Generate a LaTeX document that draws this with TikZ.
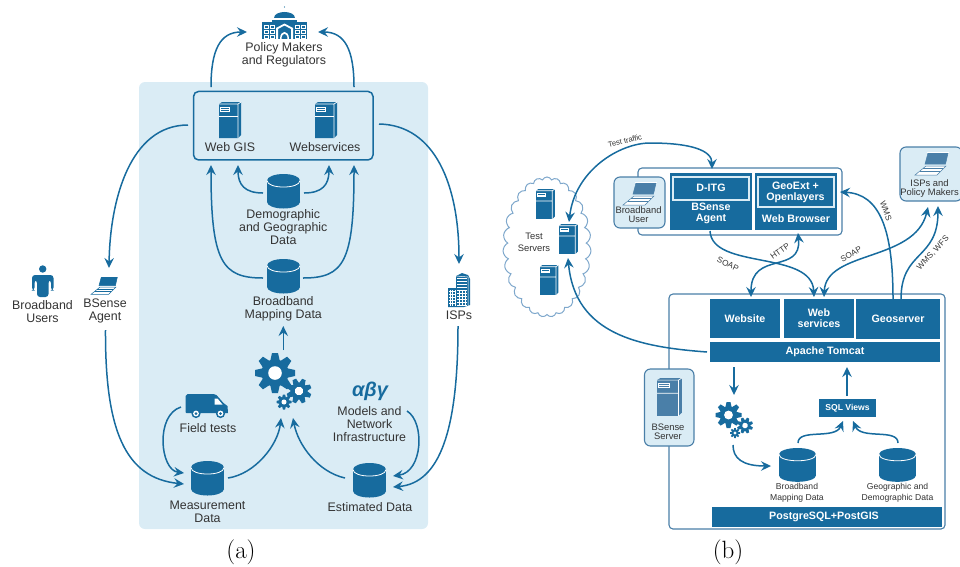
\documentclass[tikz,border=0pt]{standalone}
\usepackage{fontspec}
\setsansfont{Liberation Sans}
\usetikzlibrary{arrows.meta,shapes.symbols}
\definecolor{bl}{HTML}{176B9E}
\definecolor{blm}{HTML}{4A7FA8}
\definecolor{bll}{HTML}{DAECF5}
\definecolor{cld}{HTML}{7FA8CC}
\definecolor{txt}{HTML}{333333}
\tikzset{
 conn/.style={draw=bl,line width=1.5pt,-{Stealth[length=10pt,width=9.5pt,inset=3.5pt]}},
 dconn/.style={draw=bl,line width=1.5pt,{Stealth[length=10pt,width=9.5pt,inset=3.5pt]}-{Stealth[length=10pt,width=9.5pt,inset=3.5pt]}},
 lab/.style={font=\sffamily\fontsize{12.4}{13}\selectfont,text=txt,align=center,inner sep=0pt},
 slab/.style={font=\sffamily\fontsize{9.4}{9}\selectfont,text=txt,align=center,inner sep=0pt},
 clab/.style={font=\sffamily\fontsize{8.2}{8}\selectfont,text=txt,align=center,inner sep=0pt},
 wlab/.style={font=\sffamily\bfseries\fontsize{10.7}{11}\selectfont,text=white,align=center,inner sep=0pt},
 blk/.style={fill=bl,draw=none,inner sep=0pt},
 rbox/.style={draw=bl,line width=1.5pt,rounded corners=5pt},
 obox/.style={draw=blm,line width=1.1pt,rounded corners=4pt,fill=white},
 lbox/.style={draw=blm,line width=1.1pt,rounded corners=6pt,fill=bll},
 capt/.style={font=\rmfamily\fontsize{25}{25}\selectfont,text=black,inner sep=0pt},
}
% x y sx sy colour
\newcommand\iconServer[5]{\begin{scope}[shift={(#1,#2)},xscale=#3,yscale=#4]
 \fill[#5] (0,2)--(3,0)--(22,0)--(22,33)--(19,36)--(0,36)--cycle;
 \draw[white,line width=.7pt] (0,2)--(19,2)--(19,36) (19,2)--(22,0) (0,14.5)--(19,14.5);
 \draw[white,line width=.6pt] (1.5,5)rectangle(10.5,9) (1.5,7)--(10.5,7);
 \end{scope}}
\newcommand\iconDb[4]{\begin{scope}[shift={(#1,#2)},xscale=#3,yscale=#4]
 \fill[bl] (16.5,6.5) ellipse [x radius=16.5,y radius=6.5];
 \fill[bl] (16.5,28) ellipse [x radius=16.5,y radius=6.5];
 \fill[bl] (0,6.5) rectangle (33,28);
 \draw[white,line width=.8pt] (0,6.5) .. controls (0,15.2) and (33,15.2) .. (33,6.5);
 \end{scope}}
\newcommand\iconGear[4]{\begin{scope}[shift={(#1,#2)},scale=#3,rotate=#4]
 \fill[bl] (0,0) circle [radius=.68];
 \foreach \a in {0,45,...,315}{\fill[bl,rotate=\a] (.55,-.25)--(1,-.15)--(1,.15)--(.55,.25)--cycle;}
 \fill[white] (0,0) circle [radius=.34];
 \end{scope}}
\newcommand\iconLaptop[4]{\begin{scope}[shift={(#1,#2)},scale=#3]
 \draw[#4,fill=#4,line width=.5pt] (13,1)--(33,1)--(30.5,12)--(10,12)--cycle;
 \draw[white,line width=.5pt] (12,0)--(34,0);
 \draw[#4,fill=white,line width=.5pt] (11,14)--(31,14)--(22,23)--(0,23)--cycle;
 \draw[#4,line width=.3pt] (8,16.5)--(28,16.5) (5,19)--(25,19);
 \end{scope}}
\begin{document}
\begin{tikzpicture}[x=1pt,y=-1pt]
\useasboundingbox (0,0) rectangle (960,566);
% ---------- (a)
\fill[bll,rounded corners=6pt] (139,82) rectangle (428,529);
\node[rbox,minimum width=179.5pt,minimum height=68.5pt,inner sep=0pt] (topbox) at (283.3,125.7) {};
\iconServer{219}{102}{1}{1}{bl}
\iconServer{315}{102}{1}{1}{bl}
\node[lab] (webgis) at (230,147) {Web GIS};
\node[lab] (websrv) at (325,147) {Webservices};
% capitol
\begin{scope}[shift={(262,7)}]
 \fill[bl] (22.5,0) circle [radius=.7];
 \fill[bl] (12,11) .. controls (12,3) and (33,3) .. (33,11) --cycle;
 \fill[bl] (10,12.5) rectangle (35,15);
 \fill[bl] (0,15) rectangle (45,32);
 \foreach \xx in {2,8,33,39}\foreach \yy in {18,23,28}{\draw[white,line width=.5pt] (\xx,\yy) rectangle +(4,3);}
 \fill[white] (14,32)--(14,21)--(22.5,16.5)--(31,21)--(31,32)--(29,32)--(29,22)--(22.5,18.5)--(16,22)--(16,32)--cycle;
 \fill[white] (18,32) .. controls (18,22.5) and (27,22.5) .. (27,32) -- (25.5,32) .. controls (25.5,25) and (19.5,25) .. (19.5,32) -- cycle;
\end{scope}
\node[lab] (policy) at (284,54.5) {Policy Makers\\and Regulators};
\coordinate (pl) at (247,32); \coordinate (pr) at (318,32);
\coordinate (tl) at (211,87); \coordinate (tr) at (354,87);
\draw[conn] (tl) .. controls (211,50) and (220,32) .. (pl);
\draw[conn] (tr) .. controls (354,50) and (345,32) .. (pr);
% demographic
\iconDb{267}{174}{1}{1}
\node[lab,font=\sffamily\fontsize{12.4}{12.6}\selectfont] (demog) at (283.3,227) {Demographic\\and Geographic\\Data};
\coordinate (dl) at (263,193); \coordinate (dr) at (304,193);
\coordinate (wl) at (238,165); \coordinate (wr) at (329,165);
\draw[conn] (dl) .. controls (245,193) and (238,185) .. (wl);
\draw[conn] (dr) .. controls (322,193) and (329,185) .. (wr);
% broadband
\iconDb{267}{259}{1}{1}
\node[lab] (bmap) at (283.3,308.3) {Broadband\\Mapping Data};
\coordinate (bl) at (263,278); \coordinate (br) at (303,278);
\coordinate (ul) at (211,165); \coordinate (ur) at (354,165);
\draw[conn] (bl) .. controls (222,278) and (211,262) .. (ul);
\draw[conn] (br) .. controls (344,278) and (354,262) .. (ur);
% gears
\iconGear{275}{373}{20}{0}
\iconGear{299}{391}{12.5}{22}
\iconGear{284}{402}{7.5}{0}
\coordinate (g1) at (283.3,350); \coordinate (g2) at (283.3,326);
\draw[conn] (g1) -- (g2);
% van
\begin{scope}[shift={(185.5,394)}]
 \fill[bl] (2,0)--(28,0)--(31,1)--(38,9)--(42,12)--(42.5,19)--(1,19)--(0,18)--(0,2)--cycle;
 \fill[white] (29,4.5)--(32,4.5)--(37,10.5)--(29,10.5)--cycle;
 \foreach \xx in {10.5,35}{\fill[bl] (\xx,19.5) circle [radius=4.6]; \fill[white] (\xx,19.5) circle [radius=2.9]; \fill[bl] (\xx,19.5) circle [radius=1.5];}
\end{scope}
\node[lab] (field) at (208,428) {Field tests};
% measurement
\iconDb{191}{461}{1}{1}
\node[lab] (meas) at (207.5,511.5) {Measurement\\Data};
\iconDb{353}{463}{1}{1}
\node[lab] (estim) at (370,507) {Estimated Data};
\node[inner sep=0pt,text=bl,font=\sffamily\bfseries\itshape\fontsize{20}{20}\selectfont] (abg) at (370,391) {αβγ};
\node[lab] (models) at (369.5,424.5) {Models and\\Network\\Infrastructure};
\coordinate (f1) at (181,407); \coordinate (m1) at (184,473);
\draw[conn] (f1) .. controls (155,415) and (160,470) .. (m1);
\coordinate (ag) at (105.5,330); \coordinate (m2) at (184,484);
\draw[conn] (ag) .. controls (105,430) and (125,478) .. (m2);
\coordinate (m3) at (228,478); \coordinate (g3) at (281,418);
\draw[conn] (m3) .. controls (255,474) and (278,445) .. (g3);
\coordinate (e3) at (345,478); \coordinate (g4) at (293,418);
\draw[conn] (e3) .. controls (318,472) and (298,445) .. (g4);
\coordinate (mo) at (407,411); \coordinate (e1) at (393,476);
\draw[conn] (mo) .. controls (425,422) and (423,472) .. (e1);
\coordinate (is) at (458,326); \coordinate (e2) at (393,487);
\draw[conn] (is) .. controls (458,430) and (440,483) .. (e2);
\coordinate (wa) at (188,125); \coordinate (agt) at (109,268);
\draw[conn] (wa) .. controls (130,125) and (110,200) .. (agt);
\coordinate (wi) at (379,124); \coordinate (isp) at (459,264);
\draw[conn] (wi) .. controls (435,125) and (459,185) .. (isp);
% person
\fill[bl] (42.7,269) circle [radius=3.7];
\fill[bl,rounded corners=3pt] (32,290.5)--(32,275)--(53.5,275)--(53.5,290.5)--(51,290.5)--(51,280)--(48.5,280)--(48.5,297)--(37,297)--(37,280)--(34.5,280)--(34.5,290.5)--cycle;
\node[lab] (busers) at (42.5,312) {Broadband\\Users};
\iconLaptop{91}{276}{.8}{bl}
\node[lab] (bagent) at (105,311) {BSense\\Agent};
% building
\begin{scope}[shift={(448,273)}]
 \fill[bl] (0,15)--(8,15)--(8,3)--(14,0)--(20,2)--(22,6)--(22,32)--(16,34)--(0,34)--cycle;
 \foreach \yy in {5,8,...,32}{\draw[white,line width=.5pt] (9,\yy)--(19,\yy);}
 \foreach \yy in {18,21,...,32}{\draw[white,line width=.5pt] (1,\yy)--(8,\yy);}
 \foreach \xx in {2,4.5,7,11,14,17}{\draw[white,line width=.4pt] (\xx,17)--(\xx,33);}
 \draw[white,line width=.5pt] (8,3)--(20,4)--(20,33);
\end{scope}
\node[lab] (isps) at (459,315) {ISPs};
\node[capt] (capa) at (241,552) {(a)};
% ---------- (b)
\node[cloud,cloud puffs=27,cloud puff arc=130,aspect=.58,draw=cld,line width=1pt,fill=white,minimum width=88pt,minimum height=140pt,inner sep=0pt] (cloud) at (547,247) {};
\iconServer{536}{189}{.86}{.83}{bl}
\iconServer{559}{224}{.86}{.83}{bl}
\iconServer{540}{265}{.84}{.83}{bl}
\node[lab,font=\sffamily\fontsize{9.4}{12.5}\selectfont] (tests) at (534,242.5) {Test\\Servers};
% top box
\node[obox,minimum width=204pt,minimum height=67pt,inner sep=0pt] (ubox) at (740,201.5) {};
\node[lbox,minimum width=51pt,minimum height=51pt,inner sep=0pt] (uuser) at (639.5,202.5) {};
\iconLaptop{623}{182}{1}{blm}
\node[slab] (utext) at (638.5,215) {Broadband\\User};
\node[blk,minimum width=82pt,minimum height=57pt] (agentb) at (711,201.5) {};
\node[draw=bll,line width=2pt,fill=bl,minimum width=76pt,minimum height=23pt,inner sep=0pt] (ditg) at (711.3,188.3) {};
\node[wlab] (ditgt) at (711,187.5) {D-ITG};
\node[wlab] (agentt) at (711,213.5) {BSense\\Agent};
\node[blk,minimum width=82pt,minimum height=57pt] (brow) at (796,201.5) {};
\node[draw=bll,line width=2pt,fill=bl,minimum width=76pt,minimum height=30pt,inner sep=0pt] (geoext) at (796,192.3) {};
\node[wlab] (geotx) at (795.5,192.5) {GeoExt +\\Openlayers};
\node[wlab] (browt) at (796,219) {Web Browser};
% ISPs box
\node[lbox,minimum width=62pt,minimum height=54pt,inner sep=0pt] (ipbox) at (931,174) {};
\iconLaptop{915}{152}{1}{blm}
\node[slab] (iptext) at (929.5,188.5) {ISPs and\\Policy Makers};
% big box
\node[obox,minimum width=276pt,minimum height=235pt,inner sep=0pt] (bbox) at (807,411.5) {};
\node[blk,minimum width=70pt,minimum height=39pt] (website) at (745,318.5) {};
\node[wlab] (websitet) at (745,319) {Website};
\node[blk,minimum width=70pt,minimum height=39pt] (wsvc) at (819,318.5) {};
\node[wlab] (wsvct) at (819,318.5) {Web\\services};
\node[blk,minimum width=84pt,minimum height=40pt] (geos) at (898,319) {};
\node[wlab] (geost) at (898,318.5) {Geoserver};
\node[blk,minimum width=230pt,minimum height=20pt] (tomcat) at (825,352) {};
\node[wlab] (tomcatt) at (825,351.5) {Apache Tomcat};
\node[lbox,minimum width=49.5pt,minimum height=77pt,inner sep=0pt] (bsrv) at (669.2,407.5) {};
\iconServer{657}{378}{1.13}{1.05}{blm}
\node[slab] (bsrvt) at (668,431.5) {BSense\\Server};
\node[blk,minimum width=57pt,minimum height=18pt] (sql) at (847.5,408) {};
\node[wlab,font=\sffamily\bfseries\fontsize{8.6}{9}\selectfont] (sqlt) at (847.5,408) {SQL Views};
\iconGear{728.5}{415}{13}{0}
\iconGear{745}{425.5}{8}{22}
\iconGear{735}{433}{5}{0}
\iconDb{779}{448}{1.12}{.98}
\iconDb{879}{448}{1.12}{.98}
\node[clab,font=\sffamily\fontsize{8.6}{11}\selectfont] (bbm) at (797,493) {Broadband\\Mapping Data};
\node[clab,font=\sffamily\fontsize{8.6}{11}\selectfont] (ggd) at (897.5,493) {Geographic and\\Demographic Data};
\node[blk,minimum width=230pt,minimum height=20pt] (pg) at (827,517) {};
\node[wlab] (pgt) at (824,517) {PostgreSQL+PostGIS};
% b connectors
\coordinate (s1) at (734,367); \coordinate (g5) at (734,395);
\draw[conn] (s1) -- (g5);
\coordinate (s2) at (847,396); \coordinate (s3) at (847,367);
\draw[conn] (s2) -- (s3);
\coordinate (g6) at (733,445); \coordinate (d1) at (771,466);
\draw[conn] (g6) .. controls (733,458) and (742,466) .. (d1);
\coordinate (d2) at (798,443); \coordinate (q1) at (843,421);
\draw[conn] (d2) .. controls (798,428) and (835,440) .. (q1);
\coordinate (d3) at (898,443); \coordinate (q2) at (853,421);
\draw[conn] (d3) .. controls (898,428) and (861,440) .. (q2);
\coordinate (v1) at (569,222); \coordinate (v2) at (712,169);
\draw[dconn] (v1) .. controls (575,170) and (620,143) .. (650,143) .. controls (690,143) and (712,150) .. (v2);
\node[clab,font=\sffamily\fontsize{7.6}{8}\selectfont,rotate=14] (ttl) at (625,141) {Test traffic};
\coordinate (v3) at (707,352); \coordinate (v4) at (568,258);
\draw[conn] (v3) .. controls (640,347) and (575,335) .. (v4);
\coordinate (a1) at (710,231); \coordinate (a2) at (814,297);
\draw[conn] (a1) .. controls (712,270) and (812,250) .. (a2);
\node[clab,rotate=-25] (soap1) at (728,264) {SOAP};
\coordinate (h1) at (798,233); \coordinate (h2) at (751,297);
\draw[dconn] (h1) .. controls (802,275) and (751,250) .. (h2);
\node[clab,rotate=35] (http) at (780,251) {HTTP};
\coordinate (o1) at (824,297); \coordinate (o2) at (928,207);
\draw[dconn] (o1) .. controls (826,250) and (915,262) .. (o2);
\node[clab,rotate=30] (soap2) at (851,254) {SOAP};
\coordinate (w1) at (893,299); \coordinate (w2) at (840,192);
\draw[conn] (w1) .. controls (893,230) and (880,194) .. (w2);
\node[clab,rotate=-70] (wmsl) at (886,211) {WMS};
\coordinate (w3) at (901,299); \coordinate (w4) at (938,206);
\draw[conn] (w3) .. controls (901,250) and (938,260) .. (w4);
\node[clab,rotate=47] (wmsw) at (933,253) {WMS, WFS};
\node[capt] (capb) at (728,552) {(b)};
\end{tikzpicture}
\end{document}
